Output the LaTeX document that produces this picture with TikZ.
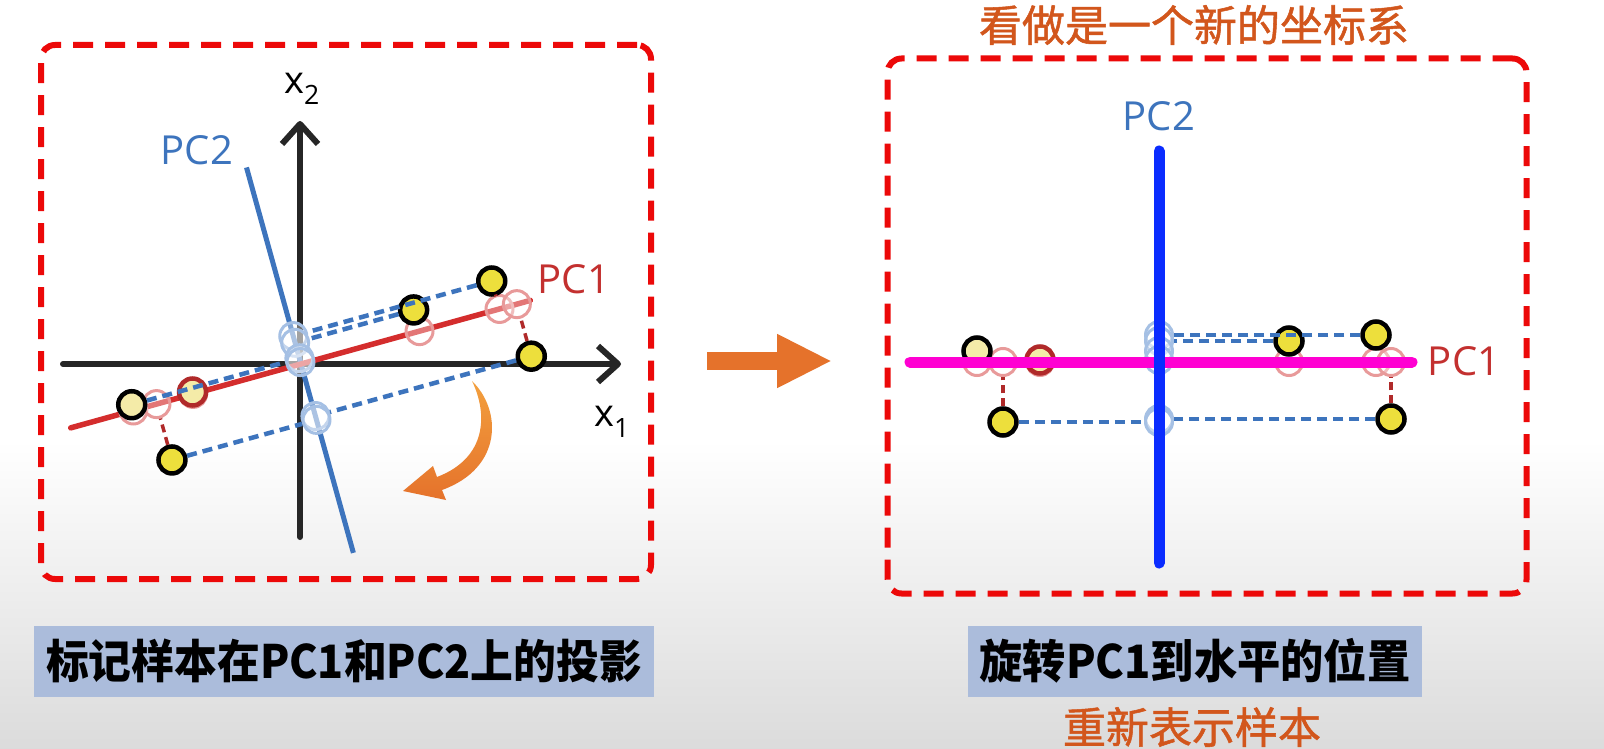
\documentclass[tikz,border=0pt]{standalone}
\usepackage{fontspec}
\setmainfont{Open Sans}
\newfontfamily\cjk{Noto Sans CJK SC}
\newfontfamily\cjknote[FakeBold=1.2]{Noto Sans CJK SC}
\usepackage{tikz}
\usetikzlibrary{arrows.meta, positioning}
\definecolor{boxred}{HTML}{EC0909}
\definecolor{pcblue}{HTML}{3D74BD}
\definecolor{pcred}{HTML}{D42D2D}
\definecolor{labred}{HTML}{C3302F}
\definecolor{darkred}{HTML}{B02A2A}
\definecolor{projred}{HTML}{E89A9A}
\definecolor{projblue}{HTML}{A5C0E4}
\definecolor{dotyellow}{HTML}{EDDF3C}
\definecolor{paleyellow}{HTML}{F4EBA8}
\definecolor{capblue}{HTML}{ABBCDB}
\definecolor{titleorange}{HTML}{D2561C}
\definecolor{arroworange}{HTML}{E5722B}
\definecolor{lightorange}{HTML}{F3A03E}
\definecolor{newmagenta}{HTML}{FF00D2}
\definecolor{newblue}{HTML}{0A2CFF}
\tikzstyle{panel} = [draw=boxred, line width=6pt, dash pattern=on 20pt off 12pt, rounded corners=14pt, inner sep=0pt]
\tikzstyle{caption} = [fill=capblue, inner sep=0pt, font=\cjk\bfseries\fontsize{46}{46}\selectfont]
\tikzstyle{note} = [text=titleorange, font=\cjknote\fontsize{43}{43}\selectfont]
\tikzstyle{sample} = [circle, draw=black, line width=4.5pt, fill=dotyellow, minimum size=27pt, inner sep=0pt]
\tikzstyle{onsample} = [sample, fill=paleyellow]
\tikzstyle{projone} = [circle, draw=projred, line width=3pt, fill=white, fill opacity=0.35, minimum size=27pt, inner sep=0pt]
\tikzstyle{projtwo} = [circle, draw=projblue, line width=3pt, fill=white, fill opacity=0.35, minimum size=27pt, inner sep=0pt]
\tikzstyle{bluedash} = [draw=pcblue, line width=4.5pt, dash pattern=on 10pt off 6pt]
\tikzstyle{reddash} = [draw=darkred, line width=3.5pt, dash pattern=on 8pt off 5pt]
\tikzstyle{axis} = [draw=black!85, line width=6pt, line cap=round, -{Straight Barb[length=20pt, width=36pt, line join=round]}]
\tikzstyle{pclabel} = [font=\fontsize{40}{40}\selectfont]
\tikzstyle{bigarrow} = [draw=arroworange, line width=18pt, -{Triangle[length=55pt, width=50pt]}]

\begin{document}
\begin{tikzpicture}[x=1pt, y=-1pt]
    \useasboundingbox (0,0) rectangle (1604,749);
    \fill[white] (0,0) rectangle (1604,440);
    \shade[top color=white, bottom color=black!14] (0,440) rectangle (1604,749);

    \node (leftpanel) [panel, minimum width=610pt, minimum height=534pt] at (346,312) {};
    \node (rightpanel) [panel, minimum width=639pt, minimum height=535pt] at (1207,326) {};

    \coordinate (xone0) at (63,364);
    \coordinate (xone1) at (621,364);
    \coordinate (xtwo0) at (300,537);
    \coordinate (xtwo1) at (300,121);
    \draw [axis] (xone0) -- (xone1);
    \draw [axis] (xtwo0) -- (xtwo1);
    \node (xonelab) at (612,422) {\fontsize{38}{38}\selectfont x\textsubscript{1}};
    \node (xtwolab) at (302,89) {\fontsize{38}{38}\selectfont x\textsubscript{2}};

    \begin{scope}[shift={(301,364)}, rotate=15.5]
        \coordinate (lpc1s) at (-239,0);
        \coordinate (lpc1e) at (238,0);
        \coordinate (lpc2s) at (0,-204);
        \coordinate (lpc2e) at (0,196);
        \draw [pcblue, line width=5pt] (lpc2s) -- (lpc2e);
        \draw [pcred, line width=5.5pt, line cap=round] (lpc1s) -- (lpc1e);

        \node (lp1a) [projone] at (206,0) {};
        \node (lp2a) [projone] at (123,0) {};
        \node (lp3a) [projone] at (224,0) {};
        \node (lp4a) [projone] at (-174,0) {};
        \node (lp5a) [projone] at (-112,0) {};
        \node (lp6a) [projone] at (-150,0) {};
        \node (lp1b) [projtwo] at (0,-29) {};
        \node (lp2b) [projtwo] at (0,-22) {};
        \node (lp3b) [projtwo] at (0,54) {};
        \node (lp4b) [projtwo] at (0,-6) {};
        \node (lp5b) [projtwo] at (0,-2) {};
        \node (lp6b) [projtwo] at (0,58) {};

        \node (lp1) [sample] at (206,-29) {};
        \node (lp2) [sample] at (123,-22) {};
        \node (lp3) [sample] at (224,54) {};
        \node (lp4) [onsample] at (-174,-6) {};
        \node (lp5) [onsample, draw=darkred] at (-112,-2) {};
        \node (lp6) [sample] at (-150,58) {};

        \draw [bluedash] (lp1) -- (lp1b);
        \draw [bluedash] (lp2) -- (lp2b);
        \draw [bluedash] (lp3) -- (lp3b);
        \draw [bluedash] (lp4) -- (lp4b);
        \draw [bluedash] (lp6) -- (lp6b);
        \draw [reddash] (lp3) -- (lp3a);
        \draw [reddash] (lp6) -- (lp6a);
        \draw [reddash] (lp1) -- (lp1a);
    \end{scope}

    \node (lpc2lab) [pclabel, text=pcblue] at (197,150) {PC2};
    \node (lpc1lab) [pclabel, text=labred] at (574,279) {PC1};

    \shade [top color=lightorange, bottom color=arroworange]
        (472,381) .. controls (502,410) and (503,468) .. (442,490) -- (446,500) -- (403,491)
        -- (433,466) -- (437,477) .. controls (487,458) and (488,414) .. (472,381) -- cycle;

    \coordinate (midstart) at (707,361);
    \coordinate (midend) at (832,361);
    \draw [bigarrow] (midstart) -- (midend);

    \begin{scope}[shift={(1159,362)}]
        \coordinate (rpc1s) at (-249,0);
        \coordinate (rpc1e) at (253,0);
        \coordinate (rpc2s) at (0,-211);
        \coordinate (rpc2e) at (0,201);

        \node (rp1a) [projone] at (217,0) {};
        \node (rp2a) [projone] at (130,0) {};
        \node (rp3a) [projone] at (232,0) {};
        \node (rp4a) [projone] at (-182,0) {};
        \node (rp5a) [projone] at (-119,0) {};
        \node (rp6a) [projone] at (-156,0) {};
        \node (rp1b) [projtwo] at (0,-27) {};
        \node (rp2b) [projtwo] at (0,-21) {};
        \node (rp3b) [projtwo] at (0,57) {};
        \node (rp4b) [projtwo] at (0,-11) {};
        \node (rp5b) [projtwo] at (0,-2) {};
        \node (rp6b) [projtwo] at (0,60) {};

        \node (rp1) [sample] at (217,-27) {};
        \node (rp2) [sample] at (130,-21) {};
        \node (rp3) [sample] at (232,57) {};
        \node (rp4) [onsample] at (-182,-11) {};
        \node (rp5) [onsample, draw=darkred] at (-119,-2) {};
        \node (rp6) [sample] at (-156,60) {};

        \draw [bluedash] (rp1) -- (rp1b);
        \draw [bluedash] (rp2) -- (rp2b);
        \draw [bluedash] (rp3) -- (rp3b);
        \draw [bluedash] (rp6) -- (rp6b);
        \draw [reddash] (rp3) -- (rp3a);
        \draw [reddash] (rp6) -- (rp6a);

        \draw [newmagenta, line width=11pt, line cap=round] (rpc1s) -- (rpc1e);
        \draw [newblue, line width=11pt, line cap=round] (rpc2s) -- (rpc2e);
    \end{scope}

    \node (rpc2lab) [pclabel, text=pcblue] at (1159,116) {PC2};
    \node (rpc1lab) [pclabel, text=labred] at (1464,361) {PC1};

    \node (title) [note] at (1194,25) {看做是一个新的坐标系};
    \node (leftcap) [caption, minimum width=620pt, minimum height=71pt] at (344,661) {\scalebox{0.93}[1]{标记样本在PC1和PC2上的投影}};
    \node (rightcap) [caption, minimum width=454pt, minimum height=71pt] at (1195,661) {\scalebox{0.94}[1]{旋转PC1到水平的位置}};
    \node (subnote) [note] at (1192,727) {重新表示样本};
\end{tikzpicture}
\end{document}
